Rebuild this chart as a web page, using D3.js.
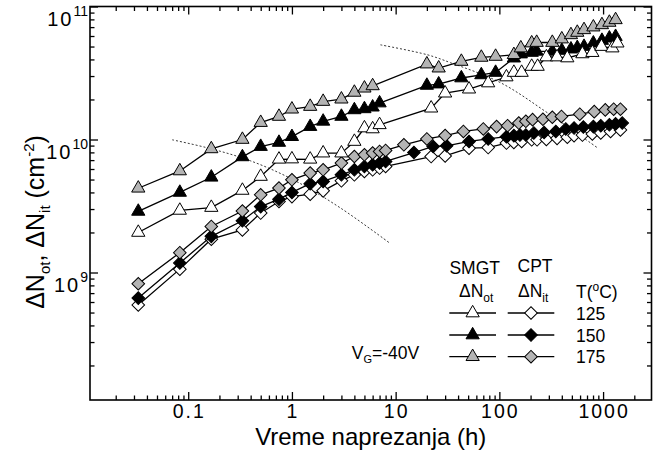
<!DOCTYPE html>
<html>
<head>
<meta charset="utf-8">
<script src="https://cdn.jsdelivr.net/npm/d3@7"></script>
<style>
    body { margin: 0; background: #fff; }
    text { font-family: "Liberation Sans", Arial, sans-serif; fill: #000; }
</style>
</head>
<body>
<script>
// ---------------------------------------------------------------------------
// Data. Times in hours, densities in cm^-2.
// SMGT -> delta N_ot (triangles), CPT -> delta N_it (diamonds)
// ---------------------------------------------------------------------------
var tOt125 = [0.033, 0.083, 0.167, 0.333, 0.5, 0.75, 1, 1.5, 2, 3, 4, 5, 6,
    7, 22, 30, 51, 78, 117, 138, 164, 205, 234, 284, 360, 452, 632, 788, 964,
    1230, 1375];
var nOt125 = [2.0, 2.93, 3.08, 4.14, 5.27, 7.1, 7.13, 7.1, 7.9, 7.9, 9.66,
    12.2, 12.0, 12.9, 17.2, 22.3, 23.9, 26.6, 29.5, 31.9, 31.9, 35.4, 35.4,
    41.7, 41.7, 41.0, 44.0, 45.0, 50.0, 48.7, 53.0];

var tOt150 = [0.033, 0.083, 0.167, 0.333, 0.5, 0.75, 1, 1.5, 2, 3, 4, 5, 6,
    7, 20, 26, 43, 67, 92, 138, 161, 205, 229, 324, 400, 490, 564, 655, 806,
    975, 1150, 1320];
var nOt150 = [2.88, 4.0, 5.2, 7.4, 8.85, 9.5, 10.5, 12.5, 13.7, 14.9, 16.7,
    17.0, 17.5, 18.8, 25.5, 26.1, 29.0, 30.6, 31.9, 40.9, 43.9, 45.1, 46.0,
    46.0, 46.7, 47.8, 49.0, 50.0, 53.0, 55.5, 57.8, 59.4];

var tOt175 = [0.033, 0.083, 0.167, 0.333, 0.5, 0.75, 1, 1.5, 2, 3, 4, 5, 6,
    20, 26, 43, 67, 92, 138, 161, 205, 229, 324, 400, 490, 564, 655, 806, 975,
    1150, 1320];
var nOt175 = [4.3, 5.8, 8.5, 10.0, 13.4, 14.9, 16.9, 17.7, 19.3, 20.1, 22.6,
    24.3, 25.3, 36.9, 34.4, 38.6, 41.4, 42.1, 43.4, 48.7, 53.1, 53.6, 53.6,
    56.9, 61.2, 63.8, 66.8, 70.0, 72.8, 75.9, 79.4];

var tIt125 = [0.033, 0.083, 0.167, 0.333, 0.5, 0.75, 1, 1.5, 2, 3, 4, 5, 6,
    7, 8, 22, 30, 51, 78, 117, 138, 164, 205, 231, 284, 360, 452, 525, 632,
    788, 950, 1180, 1470];
var nIt125 = [0.57, 1.06, 1.78, 2.09, 2.8, 3.42, 3.72, 3.88, 4.11, 4.89, 5.43,
    5.75, 5.92, 6.1, 6.27, 7.44, 7.53, 8.61, 8.7, 9.4, 9.5, 9.66, 9.95, 9.95,
    10.0, 10.2, 10.4, 10.7, 10.8, 11.0, 11.2, 11.5, 11.8];

var tIt150 = [0.033, 0.083, 0.167, 0.333, 0.5, 0.75, 1, 1.5, 2, 3, 4, 5, 6,
    7, 8, 15, 23, 31, 51, 78, 117, 138, 158, 180, 215, 270, 350, 437, 525,
    645, 806, 950, 1150, 1320, 1530];
var nIt150 = [0.642, 1.18, 1.87, 2.45, 3.13, 3.56, 4.0, 4.65, 4.84, 5.43,
    5.92, 6.27, 6.45, 6.65, 6.84, 7.98, 8.86, 8.97, 9.67, 10.1, 10.5, 10.7,
    10.8, 10.8, 11.2, 11.3, 11.5, 12.0, 12.2, 12.4, 12.5, 12.7, 12.9, 13.1,
    13.3];

var tIt175 = [0.033, 0.083, 0.167, 0.333, 0.5, 0.75, 1, 1.5, 2, 3, 4, 5, 6,
    7, 8, 12, 20, 30, 45, 70, 94, 120, 154, 180, 209, 263, 324, 397, 596, 822,
    1050, 1265, 1470];
var nIt175 = [0.823, 1.41, 2.22, 2.9, 3.84, 4.31, 4.98, 5.59, 5.92, 6.65,
    7.45, 7.67, 7.9, 8.13, 8.27, 9.12, 10.1, 10.7, 11.5, 12.0, 12.5, 12.7,
    13.3, 13.7, 14.1, 14.2, 14.7, 14.9, 15.5, 16.2, 16.7, 16.9, 16.9];

// dotted guide curves (hours, cm^-2)
var guide1T = [0.0701, 0.1667, 0.397, 1.03, 2.93, 8.71];
var guide1N = [9.95e9, 8.51e9, 6.92e9, 4.98e9, 3.06e9, 1.67e9];
var guide2T = [7.13, 20.1, 33.8, 103, 290, 881];
var guide2N = [5.15e10, 4.34e10, 3.78e10, 2.67e10, 1.59e10, 8.67e9];

// axis ticks
var xMajor = [0.1, 1, 10, 100, 1000];
var yMajor = [1e9, 1e10, 1e11];
var yExp = ["9", "10", "11"];
var temps = ["125", "150", "175"];

// ---------------------------------------------------------------------------
var width = 667, height = 454;
var plotL = 90, plotR = 651.5, plotT = 6.5, plotB = 400;

var svg = d3.select("body").append("svg")
    .attr("width", width)
    .attr("height", height);

var x = d3.scaleLog().domain([0.0113, 2930]).range([plotL, plotR]);
var y = d3.scaleLog().domain([1.1e8, 1e11]).range([plotB, plotT]);

// minor tick values: 2..9 times each decade, inside the domain
function minors(scale, lo, hi) {
    var out = [];
    for (var d = lo; d <= hi; d++) {
        for (var k = 2; k <= 9; k++) {
            var v = k * Math.pow(10, d);
            if (v >= scale.domain()[0] && v <= scale.domain()[1]) out.push(v);
        }
    }
    return out;
}
var xMinor = minors(x, -2, 3);
var yMinor = minors(y, 8, 10);

// ---- axes, ticks pointing into the plot ----
function tickAxis(gen, vals, len, tx, ty) {
    svg.append("g")
        .attr("transform", "translate(" + tx + "," + ty + ")")
        .call(gen.tickValues(vals).tickSize(-len).tickFormat(""))
        .call(function(g) {
            g.select(".domain").remove();
            g.selectAll("line").attr("stroke", "#000")
                .attr("stroke-width", 1.3);
        });
}
tickAxis(d3.axisBottom(x), xMinor, 4.5, 0, plotB);
tickAxis(d3.axisBottom(x), xMajor, 8, 0, plotB);
tickAxis(d3.axisTop(x), xMinor, 4.5, 0, plotT);
tickAxis(d3.axisTop(x), xMajor, 8, 0, plotT);
tickAxis(d3.axisLeft(y), yMinor, 4.5, plotL, 0);
tickAxis(d3.axisLeft(y), yMajor, 8, plotL, 0);
tickAxis(d3.axisRight(y), yMinor, 4.5, plotR, 0);
tickAxis(d3.axisRight(y), yMajor, 8, plotR, 0);

// frame
svg.append("rect")
    .attr("x", plotL).attr("y", plotT)
    .attr("width", plotR - plotL).attr("height", plotB - plotT)
    .attr("fill", "none")
    .attr("stroke", "#000")
    .attr("stroke-width", 1.6);

// x tick labels
svg.append("g").selectAll("text")
    .data(xMajor)
    .enter().append("text")
    .attr("x", function(d) { return x(d); })
    .attr("y", 418)
    .attr("text-anchor", "middle")
    .attr("font-size", 19.5)
    .attr("letter-spacing", 2)
    .attr("dx", 1)
    .text(function(d) { return d; });

// y tick labels, 10 with exponent
var yl = svg.append("g").selectAll("text")
    .data(yMajor)
    .enter().append("text")
    .attr("x", plotL - 2)
    .attr("y", function(d) { return y(d) + 19; })
    .attr("text-anchor", "end")
    .attr("font-size", 20);
yl.append("tspan").attr("letter-spacing", 2).text("10");
yl.append("tspan")
    .attr("dy", -10)
    .attr("font-size", 14)
    .text(function(d, i) { return yExp[i]; });

// axis titles
svg.append("text")
    .attr("x", (plotL + plotR) / 2)
    .attr("y", 445)
    .attr("text-anchor", "middle")
    .attr("font-size", 24)
    .text("Vreme naprezanja (h)");

var yt = svg.append("text")
    .attr("transform", "translate(44,222) rotate(-90)")
    .attr("text-anchor", "middle")
    .attr("font-size", 25);
yt.append("tspan").text("\u0394N");
yt.append("tspan").attr("font-size", 15).attr("dy", 6).text("ot");
yt.append("tspan").attr("dy", -6).text(", \u0394N");
yt.append("tspan").attr("font-size", 15).attr("dy", 6).text("it");
yt.append("tspan").attr("dy", -6).text(" (cm");
yt.append("tspan").attr("font-size", 15).attr("dy", -10).text("-2");
yt.append("tspan").attr("dy", 10).text(")");

// ---- dotted guides ----
var line = d3.line()
    .x(function(d) { return x(d[0]); })
    .y(function(d) { return y(d[1]); });

[[guide1T, guide1N], [guide2T, guide2N]].forEach(function(g) {
    svg.append("path")
        .datum(d3.zip(g[0], g[1]))
        .attr("d", line.curve(d3.curveCatmullRom))
        .attr("fill", "none")
        .attr("stroke", "#222")
        .attr("stroke-width", 0.9)
        .attr("stroke-dasharray", "2,2");
});
line.curve(d3.curveLinear);

// ---- series ----
var fills = ["#fff", "#000", "#b4b4b4"];
var triangle = d3.symbol().type(d3.symbolTriangle).size(76);
var diamond = d3.symbol().type(d3.symbolSquare).size(80);

var series = [
    {t: tIt125, n: nIt125, c: 0, shape: "d"},
    {t: tIt150, n: nIt150, c: 1, shape: "d"},
    {t: tIt175, n: nIt175, c: 2, shape: "d"},
    {t: tOt150, n: nOt150, c: 1, shape: "t"},
    {t: tOt175, n: nOt175, c: 2, shape: "t"},
    {t: tOt125, n: nOt125, c: 0, shape: "t"}
];

function marker(sel, shape, c) {
    sel.attr("d", shape === "t" ? triangle() : diamond())
        .attr("fill", fills[c])
        .attr("stroke", "#000")
        .attr("stroke-width", 1);
}

series.forEach(function(s) {
    var pts = d3.zip(s.t, s.n.map(function(v) { return v * 1e9; }));
    var g = svg.append("g");
    g.append("path")
        .datum(pts)
        .attr("d", line)
        .attr("fill", "none")
        .attr("stroke", "#000")
        .attr("stroke-width", 1.3);
    g.selectAll("path.m")
        .data(pts)
        .enter().append("path")
        .attr("class", "m")
        .attr("transform", function(d) {
            return "translate(" + x(d[0]) + "," + y(d[1]) + ")" +
                (s.shape === "d" ? " rotate(45)" : "");
        })
        .call(marker, s.shape, s.c);
});

// ---- legend ----
var leg = svg.append("g");
leg.append("text").attr("x", 474.7).attr("y", 273.5)
    .attr("text-anchor", "middle").attr("font-size", 17.5).text("SMGT");
leg.append("text").attr("x", 535).attr("y", 271.5)
    .attr("text-anchor", "middle").attr("font-size", 17.5).text("CPT");

function deltaN(xp, sub) {
    var t = leg.append("text").attr("x", xp).attr("y", 297)
        .attr("font-size", 17.5);
    t.append("tspan").text("\u0394N");
    t.append("tspan").attr("font-size", 12).attr("dy", 5).text(sub);
}
deltaN(459, "ot");
deltaN(518, "it");

var tc = leg.append("text").attr("x", 576).attr("y", 298)
    .attr("font-size", 17.5);
tc.append("tspan").text("T(");
tc.append("tspan").attr("font-size", 12).attr("dy", -7).text("o");
tc.append("tspan").attr("dy", 7).text("C)");

var rowY = [313, 335, 356.7];
temps.forEach(function(lab, i) {
    var ry = rowY[i];
    [[449.3, 496, "t"], [507.7, 554.3, "d"]].forEach(function(e) {
        leg.append("line")
            .attr("x1", e[0]).attr("x2", e[1])
            .attr("y1", ry).attr("y2", ry)
            .attr("stroke", "#000").attr("stroke-width", 1.3);
        leg.append("path")
            .attr("transform", "translate(" + (e[0] + e[1]) / 2 + "," + ry +
                ")" + (e[2] === "d" ? " rotate(45)" : ""))
            .call(marker, e[2], i);
    });
    leg.append("text").attr("x", 576).attr("y", ry + 6.5)
        .attr("font-size", 17.5).text(lab);
});

var vg = leg.append("text").attr("x", 351.7).attr("y", 359)
    .attr("font-size", 17.5);
vg.append("tspan").text("V");
vg.append("tspan").attr("font-size", 11).attr("dy", 4).text("G");
vg.append("tspan").attr("dy", -4).text("=-40V");
</script>
</body>
</html>
